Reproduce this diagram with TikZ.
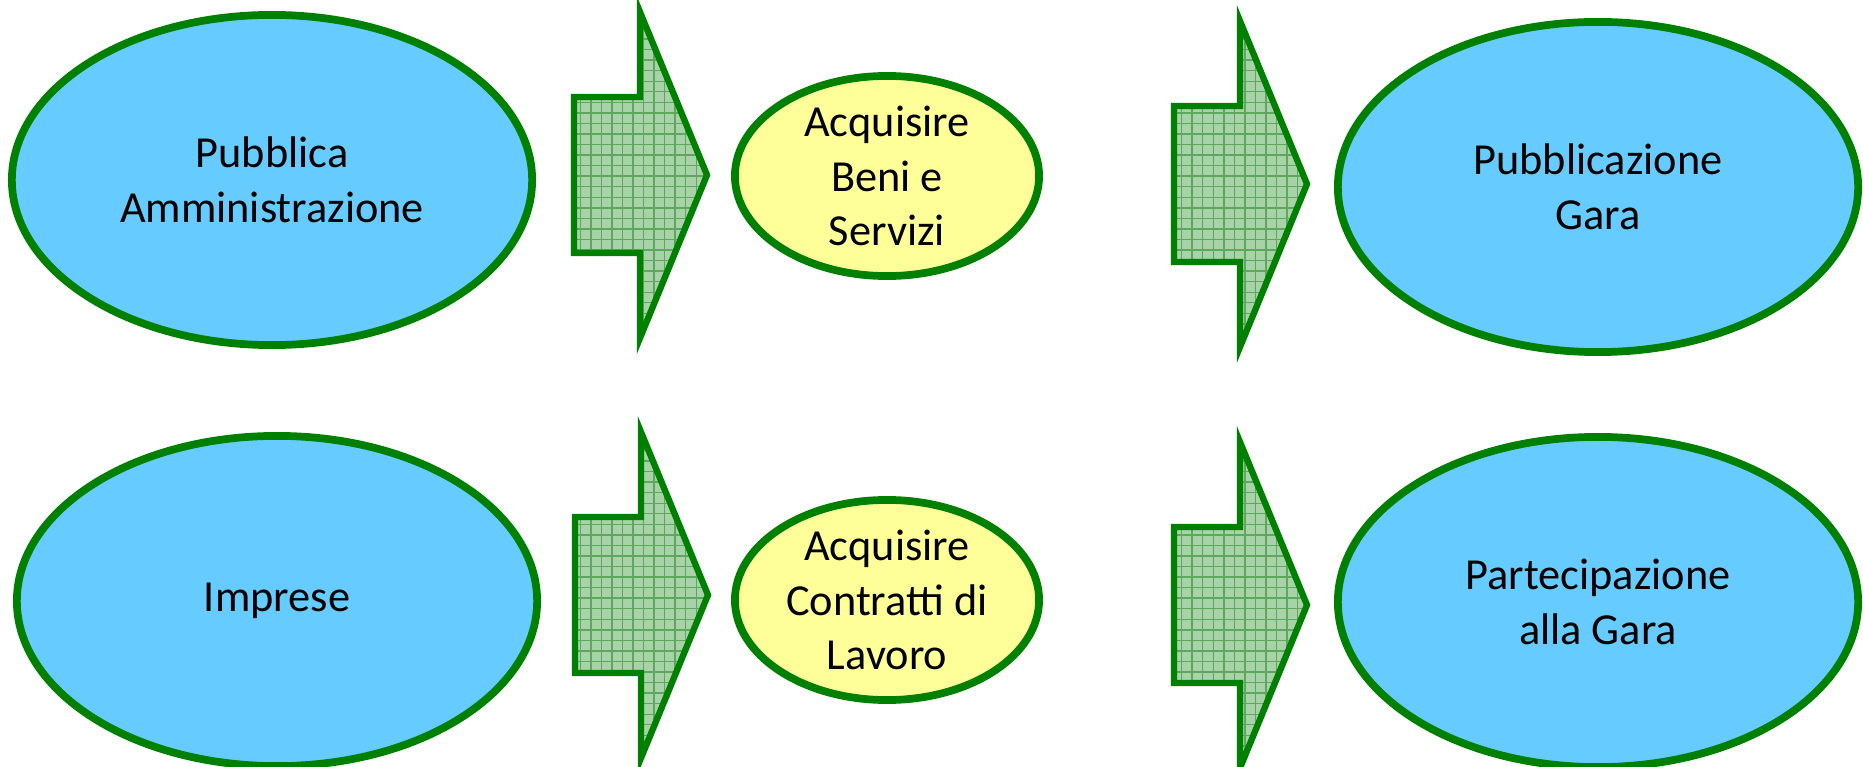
\documentclass[tikz,border=0pt]{standalone}
\usepackage{fontspec}
\setmainfont{Carlito}
\usetikzlibrary{shapes.geometric, patterns}
\definecolor{paleblue}{HTML}{66CCFF}
\definecolor{paleyellow}{HTML}{FFFF99}
\definecolor{leafgreen}{HTML}{008000}
\definecolor{mossfill}{HTML}{A8D3A8}
\definecolor{mossgrid}{HTML}{5FA65F}
\tikzset{
  bigoval/.style = {ellipse, draw = leafgreen, line width = 2.2pt, fill = paleblue, inner sep = 0pt,
    minimum width = 5.2cm, minimum height = 3.3cm, align = center, font = \fontsize{12.6}{15.6}\selectfont},
  smalloval/.style = {bigoval, fill = paleyellow, minimum width = 3.04cm, minimum height = 2cm},
  blockarrow/.style = {draw = leafgreen, line width = 1.8pt, line join = miter,
    preaction = {fill = mossfill}, pattern = grid, pattern color = mossgrid}
}
\newcommand{\fatarrow}[1]{%
\draw[blockarrow] #1 -- ++(-67,-163) -- ++(0,85) -- ++(-66,0) -- ++(0,156) -- ++(66,0) -- ++(0,85) -- cycle;}

\begin{document}
\begin{tikzpicture}[x = 0.01cm, y = -0.01cm]
\useasboundingbox (0,0) rectangle (1863,767);
% first row
\node[bigoval] (pa) at (272, 180) {Pubblica\\Amministrazione};
\node[smalloval] (beni) at (887, 176) {Acquisire\\Beni e\\Servizi};
\node[bigoval] (pubgara) at (1598, 187) {Pubblicazione\\Gara};
\fatarrow{(707, 175)}
\fatarrow{(1307, 184)}
% second row
\node[bigoval] (imprese) at (277, 601) {Imprese};
\node[smalloval] (contratti) at (887, 600) {Acquisire\\Contratti di\\Lavoro};
\node[bigoval] (partgara) at (1598, 602) {Partecipazione\\alla Gara};
\fatarrow{(708, 595)}
\fatarrow{(1307, 605)}
\end{tikzpicture}
\end{document}
